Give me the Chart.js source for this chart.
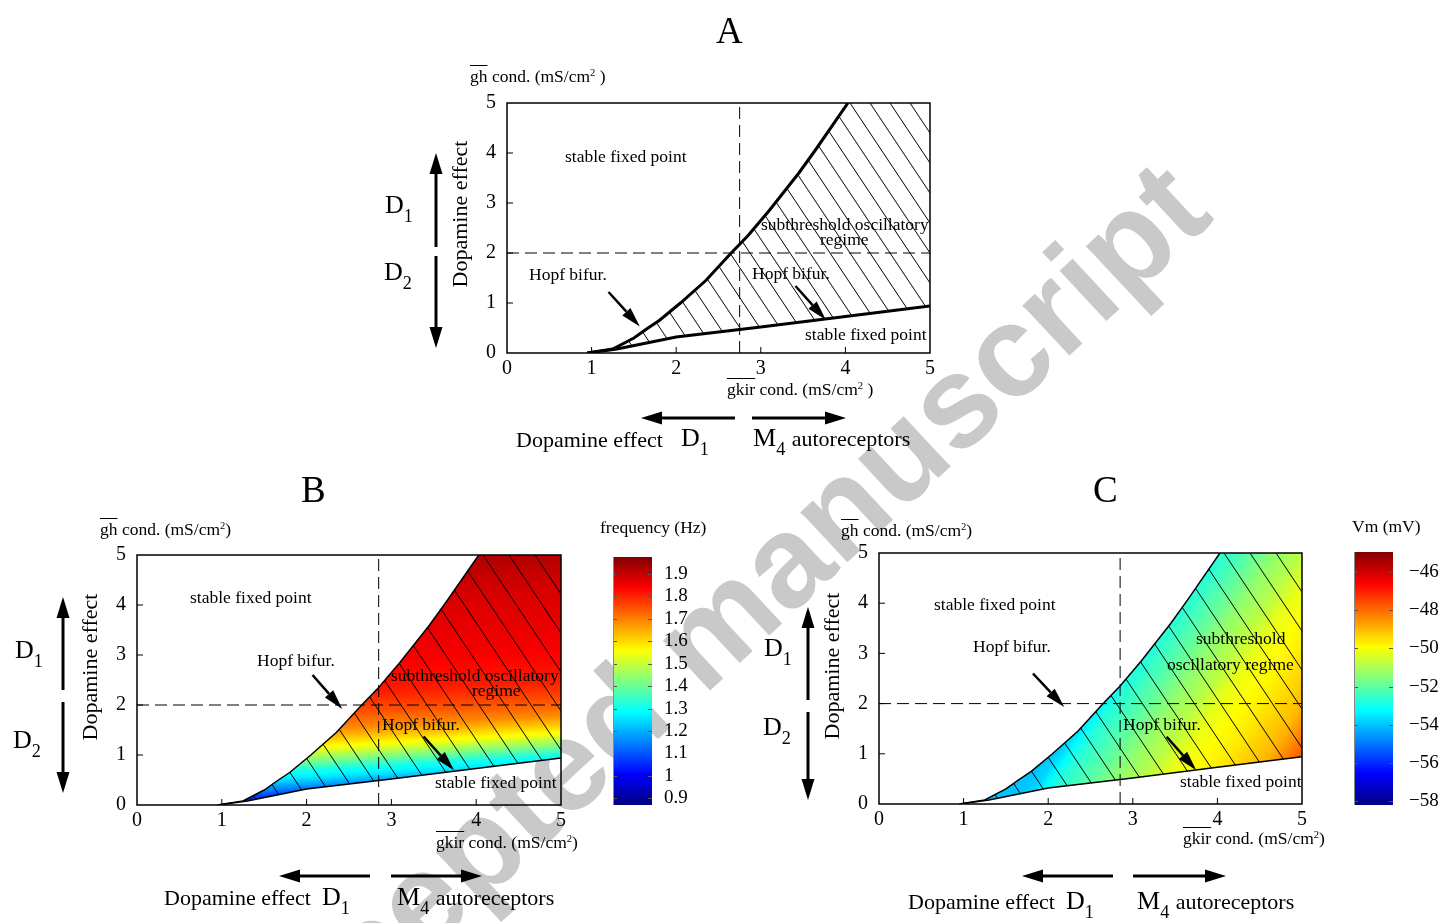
<!DOCTYPE html>
<html>
<head>
<meta charset="utf-8">
<title>Dopamine effect - gh / gkir planes</title>
<script src="https://cdn.jsdelivr.net/npm/chart.js@4.4.1/dist/chart.umd.min.js"></script>
<style>
  html, body { margin: 0; padding: 0; background: #fff; overflow: hidden; }
  #page { position: relative; width: 1440px; height: 923px; overflow: hidden;
          font-family: "Liberation Serif", "Times New Roman", serif; color: #000; }
  .t { position: absolute; white-space: nowrap; line-height: 1; }
  .vert { position: absolute; white-space: nowrap; line-height: 1; font-size: 22px;
          transform: translate(-50%, -50%) rotate(-90deg); }
  .ov { text-decoration: overline; }
  sub { font-size: 0.7em; vertical-align: -0.5em; line-height: 1; }
  sup { font-size: 0.6em; vertical-align: 0.6em; line-height: 0; }
  canvas { position: absolute; }
  #arrows { position: absolute; left: 0; top: 0; }
  #wm { position: absolute; left: 174px; top: 1040px; white-space: nowrap; line-height: 1;
        font-family: "Liberation Sans", Arial, sans-serif; font-weight: bold; font-size: 130px;
        color: #c9c9c9; transform-origin: 0 0; transform: rotate(-43deg); }
</style>
</head>
<body>
<div id="page">
  <div id="wm">Accepted manuscript</div>
  <canvas id="chartA"></canvas>
  <canvas id="chartB"></canvas>
  <canvas id="chartC"></canvas>
  <canvas id="barB"></canvas>
  <canvas id="barC"></canvas>
  <svg id="arrows" width="1440" height="923"></svg>
</div>
<script>
const FONT = '"Liberation Serif", "Times New Roman", serif';

// borders of the oscillatory region (gkir, gh) - same in A, B and C
const upperGkir = [0.95, 1.25, 1.5, 1.65, 1.8, 2.05, 2.35, 2.65, 2.85, 3.1, 3.45, 3.65, 4.03];
const upperGh   = [0.0, 0.08, 0.3, 0.48, 0.65, 1.0, 1.45, 2.0, 2.35, 2.85, 3.6, 4.07, 5.0];
const lowerGkir = [0.95, 1.3, 2.0, 3.0, 4.0, 5.0];
const lowerGh   = [0.0, 0.08, 0.32, 0.52, 0.73, 0.94];
const axisMax = 5;
const axisTicks = [0, 1, 2, 3, 4, 5];
const dashGh = 2;
const dashGkirA = 2.75;
const dashGkirBC = 2.85;

// B: frequency (Hz) levels, given by the gh where they meet gkir = 5
const freqEdgeGkir = 5;
const freqIsoSlope = 0.1;   // gh per gkir along a level line
const freqGh     = [0.4, 0.65, 0.85, 1.0, 1.2, 1.4, 1.6, 1.8, 2.1, 2.5, 3.2, 4.3, 5.0];
const freqLevels = [1.0, 1.15, 1.26, 1.31, 1.43, 1.54, 1.62, 1.69, 1.75, 1.81, 1.85, 1.88, 1.92];
const freqRange  = [0.87, 1.976];
const freqTicks  = [0.9, 1, 1.1, 1.2, 1.3, 1.4, 1.5, 1.6, 1.7, 1.8, 1.9];

// C: Vm (mV) levels read along the row gh = 1
const vmRowGh  = 1;
const vmGkir   = [2.0, 2.12, 2.35, 2.75, 3.05, 3.35, 3.6, 4.1, 4.6, 5.0];
const vmLevels = [-54.0, -53.8, -52.8, -52.0, -51.3, -50.8, -50.2, -49.7, -49.0, -47.8];
const vmRange  = [-58.2, -44.95];
const vmTicks  = [-58, -56, -54, -52, -50, -48, -46];

function pts(xs, ys) { return xs.map((x, i) => ({ x: x, y: ys[i] })); }
function clamp01(v) { return Math.min(1, Math.max(0, v)); }

// matlab/gnuplot style "jet"
function jet(t) {
  t = clamp01(t);
  const c = v => Math.round(255 * clamp01(v));
  return 'rgb(' + c(1.5 - Math.abs(4 * t - 3)) + ',' + c(1.5 - Math.abs(4 * t - 2)) + ',' + c(1.5 - Math.abs(4 * t - 1)) + ')';
}

function addStops(g, offs, vals, range) {
  const tOf = v => (v - range[0]) / (range[1] - range[0]);
  for (let i = 0; i < offs.length; i++) {
    g.addColorStop(clamp01(offs[i]), jet(tOf(vals[i])));
    if (i < offs.length - 1) {
      for (let k = 1; k < 4; k++) {
        const f = k / 4;
        g.addColorStop(clamp01(offs[i] + (offs[i + 1] - offs[i]) * f), jet(tOf(vals[i] + (vals[i + 1] - vals[i]) * f)));
      }
    }
  }
}

// B fill: nearly flat level lines
function freqFill(c) {
  const ch = c.chart;
  if (!ch.chartArea) return 'rgba(0,0,0,0)';
  const xs = ch.scales.x, ys = ch.scales.y;
  const dx = xs.getPixelForValue(5) - xs.getPixelForValue(0);
  const dy = ys.getPixelForValue(5 * freqIsoSlope) - ys.getPixelForValue(0);
  const len = Math.hypot(dx, dy);
  const ux = dy / len, uy = -dx / len;
  const x0 = xs.getPixelForValue(freqEdgeGkir), y0 = ys.getPixelForValue(freqGh[0]);
  const yl = ys.getPixelForValue(freqGh[freqGh.length - 1]);
  const D = (y0 - yl) * (-uy);
  const g = ch.ctx.createLinearGradient(x0, y0, x0 + ux * D, y0 + uy * D);
  addStops(g, freqGh.map(v => (y0 - ys.getPixelForValue(v)) / (y0 - yl)), freqLevels, freqRange);
  return g;
}

// C fill: level lines tilted, warmer to the lower right
function vmFill(c) {
  const ch = c.chart;
  if (!ch.chartArea) return 'rgba(0,0,0,0)';
  const xs = ch.scales.x, ys = ch.scales.y;
  const ang = 35 * Math.PI / 180, ux = Math.cos(ang), uy = Math.sin(ang);
  const x0 = xs.getPixelForValue(vmGkir[0]), y0 = ys.getPixelForValue(vmRowGh);
  const xl = xs.getPixelForValue(vmGkir[vmGkir.length - 1]);
  const D = (xl - x0) * ux;
  const g = ch.ctx.createLinearGradient(x0, y0, x0 + ux * D, y0 + uy * D);
  addStops(g, vmGkir.map(v => (xs.getPixelForValue(v) - x0) / (xl - x0)), vmLevels, vmRange);
  return g;
}

function drawArrow(ctx, x0, y0, x1, y1, lw, hl, hw) {
  const a = Math.atan2(y1 - y0, x1 - x0);
  const bx = x1 - hl * Math.cos(a), by = y1 - hl * Math.sin(a);
  ctx.beginPath(); ctx.moveTo(x0, y0); ctx.lineTo(bx, by);
  ctx.lineWidth = lw; ctx.strokeStyle = '#000'; ctx.stroke();
  ctx.beginPath(); ctx.moveTo(x1, y1);
  ctx.lineTo(bx + hw / 2 * Math.sin(a), by - hw / 2 * Math.cos(a));
  ctx.lineTo(bx - hw / 2 * Math.sin(a), by + hw / 2 * Math.cos(a));
  ctx.closePath(); ctx.fillStyle = '#000'; ctx.fill();
}

function noPad(s) { s.paddingTop = 0; s.paddingBottom = 0; s.paddingLeft = 0; s.paddingRight = 0; }

// box = plot area in page pixels
function panel(id, box, o) {
  const padL = 47, padT = 12, padR = 10, padB = 38;
  const cv = document.getElementById(id);
  const w = box.r - box.l + padL + padR, h = box.b - box.t + padT + padB;
  cv.width = w; cv.height = h;
  cv.style.width = w + 'px'; cv.style.height = h + 'px';
  cv.style.left = (box.l - padL) + 'px'; cv.style.top = (box.t - padT) + 'px';

  const deco = {
    id: 'deco',
    beforeDatasetsDraw(chart) {
      // hatching inside the oscillatory region
      const up = chart.getDatasetMeta(3).data, lo = chart.getDatasetMeta(4).data;
      const ctx = chart.ctx, a = chart.chartArea;
      ctx.save();
      ctx.beginPath();
      ctx.rect(a.left, a.top, a.right - a.left, a.bottom - a.top);
      ctx.clip();
      ctx.beginPath();
      up.forEach((p, i) => i ? ctx.lineTo(p.x, p.y) : ctx.moveTo(p.x, p.y));
      for (let i = lo.length - 1; i >= 0; i--) ctx.lineTo(lo[i].x, lo[i].y);
      ctx.closePath();
      ctx.clip();
      const run = (a.bottom - a.top) / o.hatchSlope;
      ctx.beginPath();
      for (let x = a.right + o.hatchShift; x > a.left - run; x -= o.hatchGap) {
        ctx.moveTo(x, a.top); ctx.lineTo(x + run, a.bottom);
      }
      ctx.lineWidth = 1; ctx.strokeStyle = '#000'; ctx.stroke();
      ctx.restore();
    },
    afterDatasetsDraw(chart) {
      const ctx = chart.ctx, a = chart.chartArea, xs = chart.scales.x, ys = chart.scales.y;
      ctx.save();
      ctx.lineWidth = 1.5; ctx.strokeStyle = '#000';
      ctx.strokeRect(a.left, a.top, a.right - a.left, a.bottom - a.top);
      ctx.beginPath();
      ctx.lineWidth = 1;
      axisTicks.slice(1, -1).forEach(v => {
        const px = xs.getPixelForValue(v), py = ys.getPixelForValue(v);
        ctx.moveTo(px, a.bottom); ctx.lineTo(px, a.bottom - 6);
        ctx.moveTo(a.left, py); ctx.lineTo(a.left + 6, py);
      });
      ctx.stroke();
      o.arrows.forEach(r => drawArrow(ctx, xs.getPixelForValue(r[0]), ys.getPixelForValue(r[1]),
        xs.getPixelForValue(r[2]), ys.getPixelForValue(r[3]), 2.5, 20, 11));
      ctx.restore();
    }
  };

  const line = (data, extra) => Object.assign({
    data: data, borderColor: '#000', borderWidth: 1, pointRadius: 0, fill: false, tension: 0
  }, extra || {});

  const tickOpts = { color: '#000', autoSkip: false, font: { family: FONT, size: 20 } };
  // region outline: upper border closed along the top frame to the corner
  const regionTop = pts(upperGkir, upperGh).concat([{ x: axisMax, y: axisMax }]);

  return new Chart(cv, {
    type: 'line',
    data: {
      datasets: [
        line(pts([o.dashGkir, o.dashGkir], [0, axisMax]), { borderDash: [12, 6] }),
        line(pts([0, axisMax], [dashGh, dashGh]), { borderDash: [12, 6] }),
        line(pts(upperGkir, upperGh), { borderWidth: o.lw }),
        line(regionTop, { borderWidth: 0, borderColor: 'rgba(0,0,0,0)',
          fill: o.fill ? '+1' : false, backgroundColor: o.fill || 'rgba(0,0,0,0)' }),
        line(pts(lowerGkir, lowerGh), { borderWidth: o.lw })
      ]
    },
    options: {
      responsive: false, animation: false, events: [],
      layout: { padding: { left: 0, top: padT, right: padR, bottom: 0 } },
      scales: {
        x: {
          type: 'linear', min: 0, max: axisMax,
          afterFit: s => { s.height = padB; noPad(s); },
          afterBuildTicks: s => { s.ticks = axisTicks.map(v => ({ value: v })); },
          ticks: Object.assign({ padding: 4 }, tickOpts),
          grid: { display: false, drawTicks: false }, border: { display: false }
        },
        y: {
          type: 'linear', min: 0, max: axisMax,
          afterFit: s => { s.width = padL; noPad(s); },
          afterBuildTicks: s => { s.ticks = axisTicks.map(v => ({ value: v })); },
          ticks: Object.assign({ padding: 11 }, tickOpts),
          grid: { display: false, drawTicks: false }, border: { display: false }
        }
      },
      plugins: {
        legend: { display: false }, tooltip: { enabled: false },
        filler: { drawTime: 'beforeDatasetsDraw', propagate: false }
      }
    },
    plugins: [deco]
  });
}

function colorbar(id, box, range, ticks, fmt, labelPad) {
  const padL = 8, padT = 12, padR = 73, padB = 15;
  const cv = document.getElementById(id);
  const w = box.r - box.l + padL + padR, h = box.b - box.t + padT + padB;
  cv.width = w; cv.height = h;
  cv.style.width = w + 'px'; cv.style.height = h + 'px';
  cv.style.left = (box.l - padL) + 'px'; cv.style.top = (box.t - padT) + 'px';

  const marks = {
    id: 'marks',
    afterDatasetsDraw(chart) {
      const ctx = chart.ctx, a = chart.chartArea, ys = chart.scales.y;
      ctx.save();
      ctx.strokeStyle = '#555'; ctx.lineWidth = 1;
      ctx.beginPath();
      ticks.forEach(v => {
        const py = Math.round(ys.getPixelForValue(v)) + 0.5;
        ctx.moveTo(a.left, py); ctx.lineTo(a.left + 4, py);
        ctx.moveTo(a.right, py); ctx.lineTo(a.right - 4, py);
      });
      ctx.stroke();
      ctx.strokeStyle = '#888';
      ctx.beginPath(); ctx.moveTo(a.left + 0.5, a.top); ctx.lineTo(a.left + 0.5, a.bottom); ctx.stroke();
      ctx.restore();
    }
  };

  return new Chart(cv, {
    type: 'bar',
    data: {
      labels: [''],
      datasets: [{
        data: [range],
        borderWidth: 0, barPercentage: 1, categoryPercentage: 1,
        backgroundColor: c => {
          const a = c.chart.chartArea;
          if (!a) return 'rgba(0,0,0,0)';
          const g = c.chart.ctx.createLinearGradient(0, a.bottom, 0, a.top);
          [0, 0.125, 0.375, 0.625, 0.875, 1].forEach(t => g.addColorStop(t, jet(t)));
          return g;
        }
      }]
    },
    options: {
      responsive: false, animation: false, events: [],
      layout: { padding: { left: padL, top: padT, right: 0, bottom: padB } },
      scales: {
        x: { display: false },
        y: {
          position: 'right', min: range[0], max: range[1],
          afterFit: s => { s.width = padR; noPad(s); },
          afterBuildTicks: s => { s.ticks = ticks.map(v => ({ value: v })); },
          ticks: { padding: labelPad, color: '#000', autoSkip: false, font: { family: FONT, size: 19 }, callback: fmt },
          grid: { display: false, drawTicks: false }, border: { display: false }
        }
      },
      plugins: { legend: { display: false }, tooltip: { enabled: false } }
    },
    plugins: [marks]
  });
}

panel('chartA', { l: 507, t: 103, r: 930, b: 353 }, {
  lw: 3, fill: null, dashGkir: dashGkirA, hatchGap: 20, hatchSlope: 1.5, hatchShift: 0,
  arrows: [[1.20, 1.22, 1.57, 0.53], [3.41, 1.34, 3.77, 0.66]]
});
panel('chartB', { l: 137, t: 555, r: 561, b: 805 }, {
  lw: 1.5, fill: freqFill, dashGkir: dashGkirBC, hatchGap: 26, hatchSlope: 1.5, hatchShift: 0,
  arrows: [[2.07, 2.6, 2.42, 1.92], [3.38, 1.37, 3.74, 0.69]]
});
panel('chartC', { l: 879, t: 553, r: 1302, b: 804 }, {
  lw: 1.5, fill: vmFill, dashGkir: dashGkirBC, hatchGap: 26, hatchSlope: 1.5, hatchShift: 0,
  arrows: [[1.82, 2.6, 2.19, 1.93], [3.40, 1.34, 3.75, 0.67]]
});
colorbar('barB', { l: 613, t: 557, r: 652, b: 805 }, freqRange, freqTicks,
  v => String(Math.round(v * 10) / 10), 12);
colorbar('barC', { l: 1354, t: 552, r: 1393, b: 805 }, vmRange, vmTicks,
  v => '\u2212' + Math.abs(v), 16);

// arrows outside the plots (page pixels)
const outerArrows = [
  [436, 247, 436, 153], [436, 256, 436, 348], [735, 418, 641, 418], [752, 418, 846, 418],
  [63, 690, 63, 597], [63, 702, 63, 793], [370, 876, 279, 876], [391, 876, 482, 876],
  [808, 700, 808, 607], [808, 712, 808, 800], [1113, 876, 1022, 876], [1133, 876, 1226, 876]
];
const svg = document.getElementById('arrows');
outerArrows.forEach(r => {
  const a = Math.atan2(r[3] - r[1], r[2] - r[0]), hl = 21, hw = 13;
  const bx = r[2] - hl * Math.cos(a), by = r[3] - hl * Math.sin(a);
  svg.insertAdjacentHTML('beforeend',
    '<line x1="' + r[0] + '" y1="' + r[1] + '" x2="' + bx + '" y2="' + by + '" stroke="#000" stroke-width="3"/>' +
    '<polygon points="' + r[2] + ',' + r[3] + ' ' + (bx + hw / 2 * Math.sin(a)) + ',' + (by - hw / 2 * Math.cos(a)) + ' ' +
    (bx - hw / 2 * Math.sin(a)) + ',' + (by + hw / 2 * Math.cos(a)) + '" fill="#000"/>');
});

// text: left, baseline, font size, html
const ghLab = '<span class="ov">gh</span> cond. (mS/cm<sup>2</sup>)';
const ghLabA = '<span class="ov">gh</span> cond. (mS/cm<sup>2</sup> )';
const gkirLab = '<span class="ov">gkir</span> cond. (mS/cm<sup>2</sup>)';
const gkirLabA = '<span class="ov">gkir</span> cond. (mS/cm<sup>2</sup> )';
const m4 = 'M<sub>4</sub> <span style="font-size:22px">autoreceptors</span>';
const S = 17.5;
const texts = [
  [716, 43, 37, 'A'], [301, 502, 37, 'B'], [1093, 502, 37, 'C'],
  // A
  [470, 83, S, ghLabA], [565, 163, S, 'stable fixed point'],
  [761, 231, S, 'subthreshold oscillatory'], [820, 246, S, 'regime'],
  [529, 281, S, 'Hopf bifur.'], [752, 280, S, 'Hopf bifur.'],
  [805, 341, S, 'stable fixed point'], [727, 396, S, gkirLabA],
  [516, 447, 22, 'Dopamine effect'], [681, 447, 26, 'D<sub>1</sub>'], [753, 447, 26, m4],
  [385, 214, 26, 'D<sub>1</sub>'], [384, 281, 26, 'D<sub>2</sub>'],
  // B
  [100, 536, S, ghLab], [600, 534, S, 'frequency (Hz)'],
  [190, 604, S, 'stable fixed point'], [257, 667, S, 'Hopf bifur.'],
  [391, 682, S, 'subthreshold oscillatory'], [472, 697, S, 'regime'],
  [382, 731, S, 'Hopf bifur.'], [435, 789, S, 'stable fixed point'],
  [436, 849, S, gkirLab],
  [164, 905, 22, 'Dopamine effect'], [322, 906, 26, 'D<sub>1</sub>'], [397, 906, 26, m4],
  [15, 659, 26, 'D<sub>1</sub>'], [13, 749, 26, 'D<sub>2</sub>'],
  // C
  [841, 537, S, ghLab], [1352, 533, S, 'Vm (mV)'],
  [934, 611, S, 'stable fixed point'], [973, 653, S, 'Hopf bifur.'],
  [1196, 645, S, 'subthreshold'], [1167, 671, S, 'oscillatory regime'],
  [1123, 731, S, 'Hopf bifur.'], [1180, 788, S, 'stable fixed point'],
  [1183, 845, S, gkirLab],
  [908, 909, 22, 'Dopamine effect'], [1066, 910, 26, 'D<sub>1</sub>'], [1137, 910, 26, m4],
  [764, 657, 26, 'D<sub>1</sub>'], [763, 736, 26, 'D<sub>2</sub>']
];
const page = document.getElementById('page');
texts.forEach(r => {
  const d = document.createElement('div');
  d.className = 't';
  d.style.left = r[0] + 'px';
  d.style.top = (r[1] - 0.837 * r[2]) + 'px';
  d.style.fontSize = r[2] + 'px';
  d.innerHTML = r[3];
  page.appendChild(d);
});
[[460, 214], [90, 667], [832, 666]].forEach(p => {
  const d = document.createElement('div');
  d.className = 'vert';
  d.style.left = p[0] + 'px'; d.style.top = p[1] + 'px';
  d.textContent = 'Dopamine effect';
  page.appendChild(d);
});
</script>
</body>
</html>
